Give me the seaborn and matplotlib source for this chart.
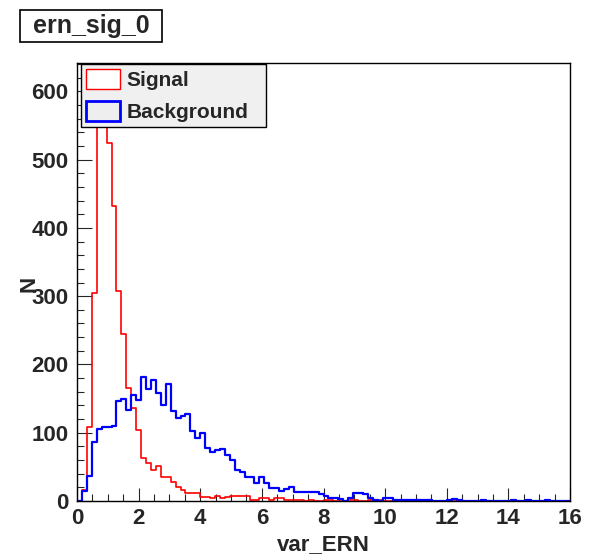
import numpy as np
import pandas as pd
import matplotlib
matplotlib.use("Agg")
import matplotlib.pyplot as plt
from matplotlib.patches import Rectangle, Patch
from matplotlib.ticker import MultipleLocator
import seaborn as sns

# Histogram binning: 100 bins over [0, 16]
x_min, x_max, n_bins = 0.0, 16.0, 100

signal_counts = [
    0, 16, 109, 305, 590, 611, 525, 432, 307, 245,
    166, 136, 104, 63, 55, 45, 51, 35, 35, 28,
    21, 16, 12, 12, 12, 6, 6, 4, 8, 4,
    6, 8, 8, 8, 7, 1, 1, 5, 5, 1,
    5, 4, 2, 2, 2, 1, 0, 1, 0, 0,
    2, 1, 0, 0, 0, 2, 1, 0, 0, 2,
    0, 1, 0, 0, 0, 0, 0, 0, 0, 0,
    0, 0, 0, 0, 0, 0, 0, 0, 0, 0,
    0, 0, 0, 0, 0, 0, 0, 0, 0, 0,
    0, 0, 0, 0, 0, 0, 0, 0, 0, 0,
]

background_counts = [
    0, 15, 36, 87, 105, 108, 109, 110, 147, 149,
    133, 155, 148, 182, 164, 177, 158, 141, 172, 132,
    121, 124, 128, 102, 93, 100, 77, 72, 75, 76,
    67, 60, 46, 43, 35, 35, 26, 35, 26, 19,
    19, 14, 17, 21, 13, 13, 13, 13, 13, 10,
    8, 5, 5, 3, 0, 5, 11, 11, 10, 5,
    1, 0, 4, 4, 1, 1, 1, 1, 1, 1,
    1, 1, 0, 0, 0, 1, 3, 1, 0, 0,
    0, 0, 2, 0, 0, 0, 0, 0, 2, 0,
    0, 2, 0, 0, 0, 2, 0, 0, 0, 0,
]

series_names = ["Signal", "Background"]
series_colors = ["#ff0000", "#0000ff"]
x_ticks = [0, 2, 4, 6, 8, 10, 12, 14, 16]
y_ticks = [0, 100, 200, 300, 400, 500, 600]
title_text = "ern_sig_0"
x_title = "var_ERN"
y_title = "N"

sns.set_style("ticks")
plt.rcParams["font.family"] = ["Liberation Sans", "DejaVu Sans"]
plt.rcParams["font.weight"] = "bold"

W, H = 594, 557
fig = plt.figure(figsize=(W / 100, H / 100), dpi=100)
fig.patch.set_facecolor("white")

# frame in pixel coordinates
fl, fr, ft, fb = 77, 570, 63, 501
ax = fig.add_axes([fl / W, 1 - fb / H, (fr - fl) / W, (fb - ft) / H])
ax.set_facecolor("white")

edges = np.linspace(x_min, x_max, n_bins + 1)
centers = 0.5 * (edges[:-1] + edges[1:])
df = pd.DataFrame({
    "var_ERN": np.concatenate([centers, centers]),
    "N": np.concatenate([signal_counts, background_counts]).astype(float),
    "sample": [series_names[0]] * n_bins + [series_names[1]] * n_bins,
})

line_widths = [1.2, 1.6]
for name, color, lw in zip(series_names, series_colors, line_widths):
    sub = df[df["sample"] == name].reset_index(drop=True)
    sns.histplot(data=sub, x="var_ERN", weights="N",
                 bins=n_bins, binrange=(x_min, x_max),
                 element="step", fill=False, color=color,
                 linewidth=lw, ax=ax)

ymax = max(max(signal_counts), max(background_counts)) * 1.05
ax.set_xlim(x_min, x_max)
ax.set_ylim(0, ymax)

ax.set_xticks(x_ticks)
ax.set_yticks(y_ticks)
ax.xaxis.set_minor_locator(MultipleLocator(0.5))
ax.yaxis.set_minor_locator(MultipleLocator(20))
ax.tick_params(axis="x", which="major", direction="in", length=9.4, width=0.8,
               labelsize=16, pad=5, top=False)
ax.tick_params(axis="x", which="minor", direction="in", length=4.7, width=0.8, top=False)
ax.tick_params(axis="y", which="major", direction="in", length=10.6, width=0.8,
               labelsize=16, pad=6, right=False)
ax.tick_params(axis="y", which="minor", direction="in", length=5.3, width=0.8, right=False)
for lab in ax.get_xticklabels() + ax.get_yticklabels():
    lab.set_fontweight("bold")
for sp in ax.spines.values():
    sp.set_visible(True)
    sp.set_linewidth(1.0)
    sp.set_color("black")

ax.set_xlabel(x_title, fontsize=16, fontweight="bold")
ax.set_ylabel(y_title, fontsize=16, fontweight="bold")
ax.xaxis.set_label_coords(0.5, (fb - 545) / (fb - ft))
ax.xaxis.label.set_va("center")
ax.yaxis.set_label_coords((29 - fl) / (fr - fl), (fb - 284) / (fb - ft))
ax.yaxis.label.set_va("center")

handles = [
    Patch(facecolor="white", edgecolor=series_colors[0], linewidth=1.0),
    Patch(facecolor="#eeeeee", edgecolor=series_colors[1], linewidth=2.0),
]
lx0, lx1, ly0, ly1 = 81, 266, 64, 129
leg = ax.legend(handles, series_names, loc="upper left",
                bbox_to_anchor=(lx0 / W, 1 - ly1 / H, (lx1 - lx0) / W, (ly1 - ly0) / H),
                bbox_transform=fig.transFigure, mode="expand", borderaxespad=0,
                fancybox=False, framealpha=1, facecolor="#f0f0f0", edgecolor="black",
                prop={"weight": "bold", "size": 15}, handlelength=1.6,
                handleheight=1.1, handletextpad=0.35, borderpad=0.25,
                labelspacing=0.5)
leg.get_frame().set_linewidth(1.0)

# title box
fig.patches.append(Rectangle((20 / W, 1 - 42 / H), 142 / W, 32 / H,
                             transform=fig.transFigure, facecolor="white",
                             edgecolor="black", linewidth=1.2))
fig.text(91 / W, 1 - 26 / H, title_text, ha="center", va="center",
         fontsize=18, fontweight="bold")

fig.savefig("out.png", dpi=100)
